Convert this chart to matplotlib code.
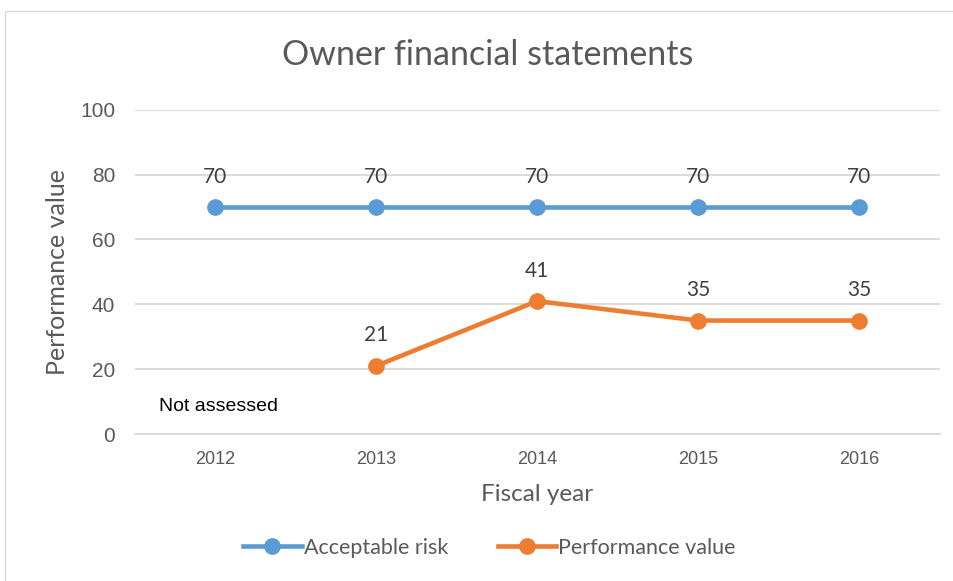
import numpy as np
import matplotlib
matplotlib.use("Agg")
import matplotlib.pyplot as plt
from matplotlib.patches import Rectangle
from matplotlib import font_manager

years = ["2012", "2013", "2014", "2015", "2016"]
acceptable_risk = [70, 70, 70, 70, 70]
performance_value = [np.nan, 21, 41, 35, 35]
y_ticks = [0, 20, 40, 60, 80, 100]

names = {f.name for f in font_manager.fontManager.ttflist}
narrow = "Liberation Sans Narrow" if "Liberation Sans Narrow" in names else "Liberation Sans"
body = "Lato" if "Lato" in names else "DejaVu Sans"

fig = plt.figure(figsize=(9.54, 5.81), dpi=100)
fig.patches.append(Rectangle((5/954, -0.05), 1.0, 1.05 - 11/581, transform=fig.transFigure,
                             fill=False, edgecolor="#d9d9d9", linewidth=1.0))
ax = fig.add_axes([0.141, 0.253, 0.844, 0.558])

x = np.arange(len(years))
blue = "#5b9bd5"
orange = "#ed7d31"
ax.plot(x, acceptable_risk, color=blue, lw=3.3, marker="o", ms=11, label="Acceptable risk", zorder=3)
ax.plot(x, performance_value, color=orange, lw=3.3, marker="o", ms=11, label="Performance value", zorder=3)

for xi, v in zip(x, acceptable_risk):
    ax.annotate(f"{v}", (xi, v), xytext=(0, 22), textcoords="offset points", ha="center", va="center",
                fontsize=15, color="#404040", family=body)
for xi, v in zip(x, performance_value):
    if not np.isnan(v):
        ax.annotate(f"{v:g}", (xi, v), xytext=(0, 22), textcoords="offset points", ha="center", va="center",
                    fontsize=15, color="#404040", family=body)

ax.text(-0.35, 8.5, "Not assessed", fontsize=14, family=narrow, color="black", va="center", ha="left")

ax.set_xlim(-0.5, 4.5)
ax.set_ylim(0, 100)
ax.set_xticks(x)
ax.set_xticklabels(years, family=narrow, fontsize=13, color="#595959")
ax.set_yticks(y_ticks)
ax.set_yticklabels([str(t) for t in y_ticks], family=narrow, fontsize=15, color="#595959")
ax.tick_params(length=0, pad=12)
ax.tick_params(axis="y", pad=14)
ax.grid(axis="y", color="#d9d9d9", lw=1.3)
ax.set_axisbelow(True)
for s in ["top", "right", "left"]:
    ax.spines[s].set_visible(False)
ax.spines["bottom"].set_color("#d9d9d9")
ax.spines["bottom"].set_linewidth(1.3)

ax.set_xlabel("Fiscal year", fontsize=17.5, color="#595959", family=body, labelpad=12)
ax.set_ylabel("Performance value", fontsize=18, color="#595959", family=body, labelpad=8)
fig.text(0.511, 0.905, "Owner financial statements", ha="center", va="center", fontsize=24.5,
         color="#595959", family=body)

leg = fig.legend(loc="center", bbox_to_anchor=(0.513, 0.057), ncol=2, frameon=False,
                 prop={"family": body, "size": 15.5}, handlelength=2.7, handletextpad=0.1,
                 columnspacing=2.3)
for t in leg.get_texts():
    t.set_color("#595959")

fig.savefig("out.png", dpi=100)
